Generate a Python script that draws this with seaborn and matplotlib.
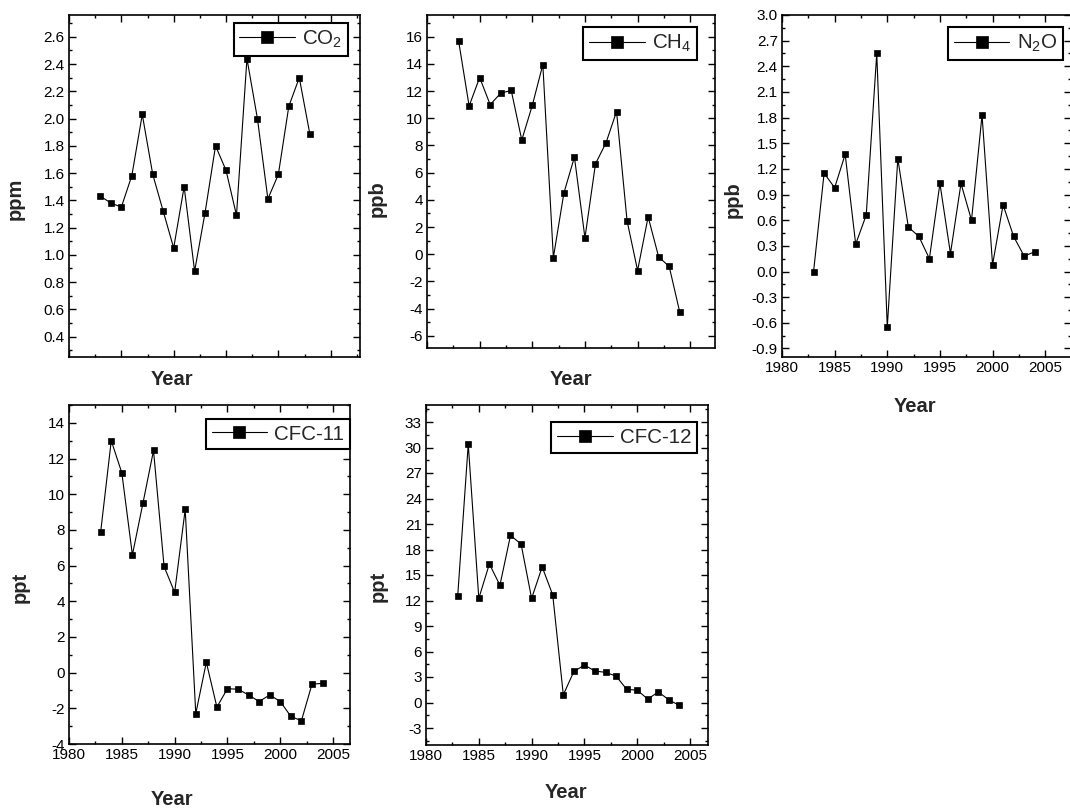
import matplotlib
matplotlib.use("Agg")
import matplotlib.pyplot as plt
from matplotlib.ticker import MultipleLocator, FuncFormatter
import seaborn as sns
import pandas as pd

# yearly changes
years_co2 = list(range(1983, 2004))
co2 = [1.43, 1.38, 1.35, 1.58, 2.03, 1.59, 1.32, 1.05, 1.50, 0.88, 1.31,
       1.80, 1.62, 1.29, 2.44, 2.00, 1.41, 1.59, 2.09, 2.30, 1.89]

years = list(range(1983, 2005))
ch4 = [15.7, 10.9, 13.0, 11.0, 11.85, 12.05, 8.4, 10.95, 13.95, -0.25, 4.5,
       7.15, 1.2, 6.65, 8.2, 10.5, 2.45, -1.2, 2.75, -0.2, -0.9, -4.25]
n2o = [0.0, 1.15, 0.98, 1.37, 0.32, 0.66, 2.55, -0.65, 1.32, 0.52, 0.41,
       0.15, 1.03, 0.21, 1.03, 0.60, 1.83, 0.08, 0.78, 0.41, 0.18, 0.23]
cfc11 = [7.9, 13.0, 11.2, 6.6, 9.5, 12.45, 5.95, 4.5, 9.15, -2.3, 0.58,
         -1.93, -0.9, -0.93, -1.25, -1.62, -1.25, -1.62, -2.45, -2.7, -0.65, -0.6]
cfc12 = [12.5, 30.4, 12.25, 16.3, 13.8, 19.65, 18.65, 12.25, 15.95, 12.65, 0.9,
         3.65, 4.4, 3.7, 3.55, 3.1, 1.55, 1.45, 0.4, 1.25, 0.3, -0.35]

W, H = 1070, 809

sns.set_style("ticks")
plt.rcParams["font.family"] = ["Liberation Sans", "DejaVu Sans"]
plt.rcParams["axes.unicode_minus"] = False
plt.rcParams["mathtext.default"] = "regular"

fig = plt.figure(figsize=(W / 100, H / 100), dpi=100)
fig.patch.set_facecolor("white")


def px_rect(l, t, r, b):
    return [l / W, 1 - b / H, (r - l) / W, (b - t) / H]


panels = [
    dict(x=years_co2, y=co2, label="CO$_2$", unit="ppm", rect=(69, 15, 360, 357),
         xmax=2007.8, ylim=(0.25, 2.76), major=0.2, minor=0.1, dec=1,
         leg=(0.959, 0.977), xl=(0.354, -0.038), yl=(-0.151, 0.462), xticks=False),
    dict(x=years, y=ch4, label="CH$_4$", unit="ppb", rect=(427, 15, 715, 348),
         xmax=2007.35, ylim=(-6.9, 17.6), major=2, minor=1, dec=0,
         leg=(0.9375, 0.964), xl=(0.5, -0.066), yl=(-0.139, 0.45), xticks=False),
    dict(x=years, y=n2o, label="N$_2$O", unit="ppb", rect=(782, 15, 1071, 357),
         xmax=2007.45, ylim=(-1.0, 3.0), major=0.3, minor=0.15, dec=1,
         leg=(0.972, 0.965), xl=(0.46, -0.117), yl=(-0.135, 0.459), xticks=True),
    dict(x=years, y=cfc11, label="CFC-11", unit="ppt", rect=(69, 405, 350, 744),
         xmax=2006.6, ylim=(-4, 15), major=2, minor=1, dec=0,
         leg=(1.0, 0.959), xl=(0.366, -0.136), yl=(-0.139, 0.463), xticks=True),
    dict(x=years, y=cfc12, label="CFC-12", unit="ppt", rect=(426, 405, 708, 745),
         xmax=2006.7, ylim=(-5, 35), major=3, minor=1.5, dec=0,
         leg=(0.961, 0.95), xl=(0.496, -0.112), yl=(-0.135, 0.465), xticks=True),
]

for p in panels:
    ax = fig.add_axes(px_rect(*p["rect"]))
    df = pd.DataFrame({"Year": p["x"], "val": p["y"]})
    sns.lineplot(data=df, x="Year", y="val", ax=ax, color="black", lw=0.8,
                 marker="s", markersize=4.6, markeredgecolor="black",
                 markeredgewidth=0.5, label=p["label"])

    ax.set_xlim(1980, p["xmax"])
    ax.set_ylim(*p["ylim"])
    ax.xaxis.set_major_locator(MultipleLocator(5))
    ax.xaxis.set_minor_locator(MultipleLocator(2.5))
    ax.yaxis.set_major_locator(MultipleLocator(p["major"]))
    ax.yaxis.set_minor_locator(MultipleLocator(p["minor"]))
    dec = p["dec"]
    ax.yaxis.set_major_formatter(FuncFormatter(lambda v, pos, d=dec: f"{round(v, 3) + 0:.{d}f}"))

    ax.tick_params(which="both", direction="in", top=True, right=True,
                   width=1, color="black", labelsize=11, labelcolor="black",
                   labelbottom=p["xticks"], pad=3)
    ax.tick_params(which="major", length=5)
    ax.tick_params(which="minor", length=2.5)
    for s in ax.spines.values():
        s.set_linewidth(1.2)
        s.set_color("black")

    ax.set_xlabel("Year", fontsize=14.5, fontweight="bold")
    ax.set_ylabel(p["unit"], fontsize=14.5, fontweight="bold")
    ax.xaxis.set_label_coords(*p["xl"])
    ax.yaxis.set_label_coords(*p["yl"])

    leg = ax.legend(loc="upper right", bbox_to_anchor=p["leg"], borderaxespad=0,
                    fontsize=14.8, markerscale=1.9, handlelength=2.7,
                    handletextpad=0.35, borderpad=0.28, fancybox=False,
                    edgecolor="black", framealpha=1)
    leg.get_frame().set_linewidth(1.5)

fig.savefig("out.png", dpi=100, facecolor="white")
